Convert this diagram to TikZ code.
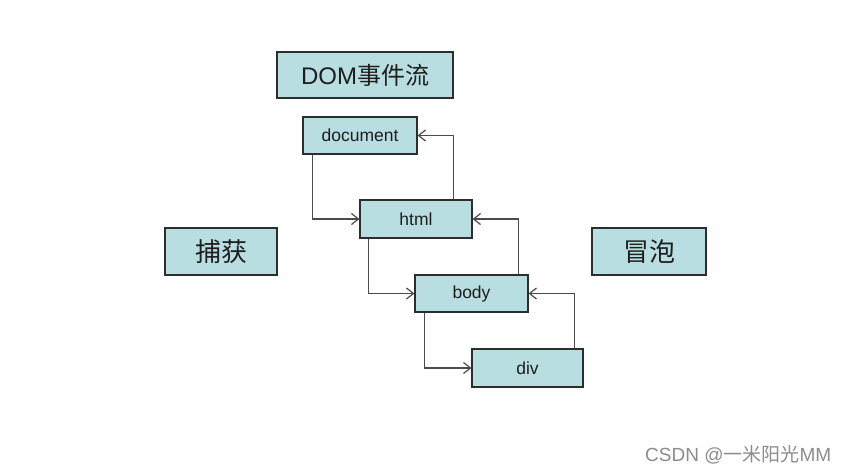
\documentclass[tikz,border=0pt]{standalone}
\usepackage{fontspec}
\setmainfont{Liberation Sans}
\newfontfamily\cjk{Noto Sans CJK SC}
\usetikzlibrary{arrows.meta}
\definecolor{boxfill}{RGB}{184,222,225}
\definecolor{boxline}{RGB}{45,45,45}
\definecolor{connline}{RGB}{75,75,75}
\definecolor{boxtext}{RGB}{30,30,30}
\definecolor{wmark}{RGB}{140,140,140}
\tikzset{
  box/.style={draw=boxline, fill=boxfill, line width=1.1pt, inner sep=0pt, align=center, text=boxtext},
  smallbox/.style={box, font=\fontsize{17.5}{20}\selectfont},
  bigbox/.style={box, font=\fontsize{26}{30}\selectfont},
  conn/.style={draw=connline, line width=1.3pt, -{Straight Barb[length=7pt,width=11pt,line width=1.2pt]}}
}
\begin{document}
\begin{tikzpicture}[x=1pt,y=-1pt]
\useasboundingbox (0,0) rectangle (842,474);
\node[bigbox, minimum width=176pt, minimum height=46pt, font=\fontsize{24}{28}\selectfont] (dom) at (365,75) {DOM{\cjk 事件流}};
\node[smallbox, minimum width=114pt, minimum height=37pt] (document) at (360,135.5) {document};
\node[smallbox, minimum width=112pt, minimum height=38pt] (html) at (416,219) {html};
\node[smallbox, minimum width=113pt, minimum height=37pt] (body) at (471.5,293.5) {body};
\node[smallbox, minimum width=111pt, minimum height=38pt] (div) at (527.5,368) {div};
\node[bigbox, minimum width=112pt, minimum height=47pt] (capture) at (221,251.5) {\cjk 捕获};
\node[bigbox, minimum width=114pt, minimum height=47pt] (bubble) at (649,251.5) {\cjk 冒泡};
\draw[conn] ([xshift=10pt]document.south west) |- (html.west);
\draw[conn] ([xshift=-19pt]html.north east) |- (document.east);
\draw[conn] ([xshift=9pt]html.south west) |- (body.west);
\draw[conn] ([xshift=-10pt]body.north east) |- (html.east);
\draw[conn] ([xshift=10pt]body.south west) |- (div.west);
\draw[conn] ([xshift=-9pt]div.north east) |- (body.east);
\node[anchor=west, inner sep=0pt, text=wmark, font=\fontsize{19}{21}\selectfont] (wm) at (645,455) {CSDN @{\cjk 一米阳光}MM};
\end{tikzpicture}
\end{document}
